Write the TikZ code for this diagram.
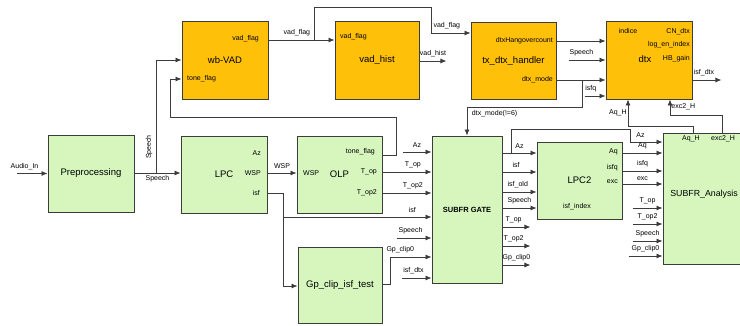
\documentclass[tikz,border=0pt]{standalone}
\usepackage{fontspec}
\setmainfont{Liberation Sans}
\usetikzlibrary{arrows.meta}
\definecolor{vadorange}{RGB}{255,192,10}
\definecolor{blockgreen}{RGB}{214,246,190}
\definecolor{wiregray}{RGB}{60,60,60}

\begin{document}
\begin{tikzpicture}[x=1pt, y=-1pt,
    box/.style={draw=wiregray, line width=0.9pt, inner sep=0pt, font=\fontsize{9.5}{11}\selectfont},
    obox/.style={box, fill=vadorange},
    gbox/.style={box, fill=blockgreen},
    ttl/.style={font=\fontsize{9.5}{11}\selectfont, inner sep=0pt},
    lbl/.style={font=\fontsize{7}{8}\selectfont, inner sep=1pt},
    tag/.style={lbl, above=3pt},
    wire/.style={draw=wiregray, line width=0.8pt},
    arr/.style={wire, -{Latex[length=6pt, width=5pt]}}]
    \useasboundingbox (0,0) rectangle (740,325);
    \clip (0,0) rectangle (740,325);

    % blocks
    \node[obox, minimum width=86, minimum height=78] (wbvad) at (225,60) {wb-VAD};
    \node[obox, minimum width=84, minimum height=78] (hist) at (377,60) {vad\_hist};
    \node[obox, minimum width=85, minimum height=77] (txdtx) at (513.5,60.5) {tx\_dtx\_handler};
    \node[obox, minimum width=86, minimum height=78] (dtx) at (649,60) {};
    \node[gbox, minimum width=86, minimum height=77] (pre) at (91,173.5) {Preprocessing};
    \node[gbox, minimum width=86, minimum height=77] (lpc) at (224,174.5) {LPC};
    \node[gbox, minimum width=85, minimum height=77] (olp) at (339.5,174.5) {OLP};
    \node[gbox, minimum width=84, minimum height=76] (gp) at (340,285) {Gp\_clip\_isf\_test};
    \node[gbox, minimum width=70, minimum height=147] (gate) at (467,209.5) {\bfseries\fontsize{7.5}{9}\selectfont SUBFR GATE};
    \node[gbox, minimum width=85, minimum height=77] (lpc2) at (579.5,180.5) {LPC2};
    \node[gbox, minimum width=110, minimum height=131] (ana) at (718,198.5) {};

    % ports inside the blocks
    \node[lbl, anchor=east] (wvf) at (260,39) {vad\_flag};
    \node[lbl, anchor=west] (wtf) at (186,79) {tone\_flag};
    \node[lbl, anchor=west] (hvf) at (339,37) {vad\_flag};
    \node[lbl, anchor=east] (thc) at (554,41) {dtxHangovercount};
    \node[lbl, anchor=east] (tdm) at (554,80) {dtx\_mode};
    \node[lbl] (dind) at (628,31) {indice};
    \node[lbl, anchor=east] (dcn) at (691,32) {CN\_dtx};
    \node[lbl, anchor=east] (dlog) at (691,45) {log\_en\_index};
    \node[ttl] (dtit) at (645,59) {dtx};
    \node[lbl, anchor=east] (dhb) at (691,59) {HB\_gain};
    \node[lbl, anchor=east] (laz) at (262,153) {Az};
    \node[lbl, anchor=east] (lwsp) at (262,173) {WSP};
    \node[lbl, anchor=east] (lisf) at (261,193) {isf};
    \node[lbl, anchor=west] (owsp) at (302,173) {WSP};
    \node[lbl, anchor=east] (otf) at (376,152) {tone\_flag};
    \node[lbl, anchor=east] (otop) at (378,172) {T\_op};
    \node[lbl, anchor=east] (otop2) at (378,193) {T\_op2};
    \node[lbl, anchor=east] (qaq) at (619,152) {Aq};
    \node[lbl, anchor=east] (qisfq) at (619,168) {isfq};
    \node[lbl, anchor=east] (qexc) at (619,182) {exc};
    \node[lbl] (qidx) at (577,207) {isf\_index};
    \node[lbl] (aaqh) at (691,139) {Aq\_H};
    \node[lbl] (aexc) at (723,139) {exc2\_H};
    \node[ttl, anchor=east, font=\fontsize{8.8}{10}\selectfont] (atit) at (738,194) {SUBFR\_Analysis};

    % branch points
    \coordinate (jsp) at (156,173);
    \coordinate (jisf) at (283,217);
    \coordinate (jvad) at (314,40);
    \coordinate (jmode) at (582,80);
    \coordinate (jaz) at (511,153);

    % left part
    \draw[arr] (pre.west) ++(-31,0) node[lbl, above=2pt, xshift=8pt] (ain) {Audio\_In} -- (pre.west);
    \draw[arr] (pre.east |- jsp) -- node[lbl, below=1pt] (lsp1) {Speech} (lpc.west |- jsp);
    \draw[arr] (jsp) |- (wbvad.west |- 0,60);
    \node[lbl, rotate=90] (lsp2) at (149,147) {Speech};
    \draw[arr] (lpc.east |- 0,173) -- node[tag] (lwsp2) {WSP} (olp.west |- 0,173);
    \draw[wire] (lpc.east |- 0,193) -| (jisf);
    \draw[arr] (jisf) |- (gp.west |- 0,286);
    \draw[arr] (jisf) -- node[tag, pos=0.87] (gisf) {isf} (gate.west |- jisf);
    \draw[arr] (olp.east |- 0,155) -- ++(14,0) |- (170,117) |- (wbvad.west |- 0,79);
    \draw[arr] (olp.east |- 0,172) -- node[tag, pos=0.62] (gtop) {T\_op} (gate.west |- 0,172);
    \draw[arr] (olp.east |- 0,193) -- node[tag, pos=0.62] (gtop2) {T\_op2} (gate.west |- 0,193);
    \draw[arr] (gp.east |- 0,284) -- ++(8,0) |- node[tag, pos=0.62] (ggp) {Gp\_clip0} (gate.west |- 0,257);

    % into and out of the gate
    \draw[arr] (gate.west |- 0,152) ++(-29,0) -- node[tag] (gaz) {Az} ++(29,0);
    \draw[arr] (gate.west |- 0,238) ++(-35,0) -- node[tag, pos=0.4] (gsp) {Speech} ++(35,0);
    \draw[arr] (gate.west |- 0,278) ++(-30,0) -- node[tag, pos=0.4] (gdtx) {isf\_dtx} ++(30,0);
    \draw[arr] (gate.east |- jaz) -- node[tag] (caz) {Az} (lpc2.west |- jaz);
    \draw[arr] (jaz) |- (630,129) |- node[tag, pos=0.66] (baz) {Az} (ana.west |- 0,142);
    \draw[arr] (gate.east |- 0,172) -- node[tag, pos=0.4] (cisf) {isf} (lpc2.west |- 0,172);
    \draw[arr] (gate.east |- 0,192) -- node[tag, pos=0.45] (cold) {isf\_old} (lpc2.west |- 0,192);
    \draw[arr] (gate.east |- 0,208) -- node[tag] (csp) {Speech} (lpc2.west |- 0,208);
    \draw[arr] (gate.east |- 0,227) -- node[tag, pos=0.4] (ctop) {T\_op} ++(28,0);
    \draw[arr] (gate.east |- 0,246) -- node[tag, pos=0.4] (ctop2) {T\_op2} ++(28,0);
    \draw[arr] (gate.east |- 0,265) -- node[tag] (cgp) {Gp\_clip0} ++(28,0);

    % into the analysis
    \draw[arr] (lpc2.east |- jaz) -- node[tag] (baq) {Aq} (ana.west |- jaz);
    \draw[arr] (lpc2.east |- 0,171) -- node[tag] (bisfq) {isfq} (ana.west |- 0,171);
    \draw[arr] (lpc2.east |- 0,184) -- node[lbl, above=2pt] (bexc) {exc} (ana.west |- 0,184);
    \draw[arr] (ana.west |- 0,208) ++(-30,0) -- node[tag] (btop) {T\_op} ++(30,0);
    \draw[arr] (ana.west |- 0,224) ++(-30,0) -- node[tag] (btop2) {T\_op2} ++(30,0);
    \draw[arr] (ana.west |- 0,241) ++(-30,0) -- node[tag] (bsp) {Speech} ++(30,0);
    \draw[arr] (ana.west |- 0,256) ++(-34,0) -- node[tag] (bgp) {Gp\_clip0} ++(34,0);

    % top row
    \draw[arr] (wbvad.east |- jvad) -- node[tag, pos=0.43] (tvf) {vad\_flag} (hist.west |- jvad);
    \draw[arr] (jvad) |- (431,7) |- node[tag, pos=0.7] (tvf2) {vad\_flag} (txdtx.west |- 0,33);
    \draw[arr] (hist.east |- 0,61) -- node[tag] (tvh) {vad\_hist} ++(27,0);
    \draw[arr] (txdtx.east |- 0,41) -- (dtx.west |- 0,41);
    \draw[arr] (dtx.west |- 0,60) ++(-37,0) -- node[tag, pos=0.35] (tsp) {Speech} ++(37,0);
    \draw[arr] (txdtx.east |- jmode) -- (dtx.west |- jmode);
    \draw[arr] (jmode) |- node[lbl, below=2pt, pos=0.88] (tdm2) {dtx\_mode(!=6)} (467,107) -- (gate.north);
    \draw[arr] (dtx.west |- 0,96) ++(-21,0) -- node[tag, pos=0.3] (tisfq) {isfq} ++(21,0);
    \draw[arr] (dtx.east |- 0,80) -- node[tag, pos=0.4] (tdtx) {isf\_dtx} ++(29,0);
    \draw[arr] (ana.north -| 693,0) |- (628,126) -- node[lbl, left] (taqh) {Aq\_H} (dtx.south -| 628,0);
    \draw[arr] (ana.north -| 722,0) |- (670,115) -- node[lbl, right] (texc) {exc2\_H} (dtx.south -| 670,0);
\end{tikzpicture}
\end{document}
